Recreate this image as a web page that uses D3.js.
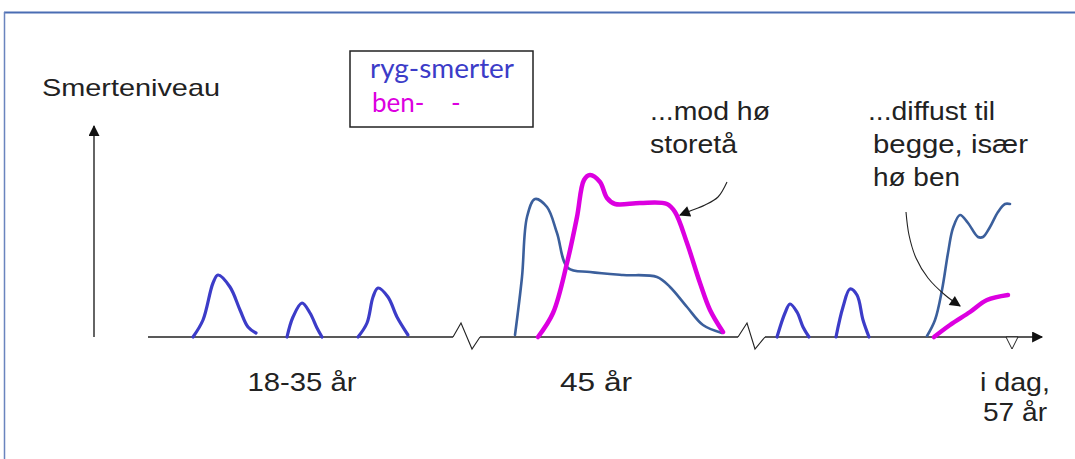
<!DOCTYPE html>
<html>
<head>
<meta charset="utf-8">
<script src="https://cdn.jsdelivr.net/npm/d3@7"></script>
<style>
  body { margin: 0; background: #fff; }
  svg { display: block; }
  text { font-family: "Liberation Sans", Arial, sans-serif; fill: #222; }
</style>
</head>
<body>
<div id="chart"></div>
<script>
// x = time (arbitrary units along a broken axis), y = pain level 0..10

// short back-pain episodes, 18-35 years and later
const rygEpisodes = [
  [[14.3, 0], [15.3, 0.85], [16.3, 2.7], [16.8, 3.1], [18.0, 2.5], [19.0, 1.35], [19.8, 0.5], [20.6, 0.2]],
  [[23.7, 0], [24.3, 1.0], [25.2, 1.7], [26.0, 1.2], [26.7, 0.45], [27.2, 0]],
  [[30.8, 0], [31.7, 0.7], [32.3, 2.0], [32.8, 2.45], [33.8, 2.0], [34.7, 1.0], [35.8, 0.1]],
  [[72.7, 0], [73.5, 1.2], [74.0, 1.65], [74.7, 1.25], [75.3, 0.5], [75.9, 0]],
  [[78.6, 0], [79.3, 1.5], [80.0, 2.4], [80.7, 2.1], [81.3, 0.85], [81.9, 0]]
];

// back pain at 45 and today
const ryg45 = [[46.5, 0.1], [47.2, 3.0], [47.7, 6.0], [48.5, 6.9], [49.7, 6.5], [50.7, 5.2], [51.8, 3.45],
  [54.0, 3.25], [57.3, 3.1], [60.7, 3.0], [62.0, 2.5], [63.7, 1.5], [65.3, 0.6], [67.2, 0.2]];
const rygToday = [[87.7, 0.05], [88.5, 0.85], [89.2, 2.35], [89.8, 4.2], [90.3, 5.45], [91.0, 6.1], [91.8, 5.7],
  [92.8, 5.0], [93.3, 5.0], [94.0, 5.5], [94.8, 6.25], [95.5, 6.65], [96.0, 6.65]];

// leg pain at 45 and today
const ben45 = [[48.8, 0], [50.3, 1.2], [51.7, 3.7], [52.7, 6.0], [53.4, 7.85], [54.0, 8.1], [55.0, 7.75],
  [55.7, 6.95], [56.5, 6.65], [59.0, 6.7], [61.7, 6.65], [62.5, 6.25], [63.7, 4.7], [65.0, 2.7],
  [66.0, 1.35], [67.3, 0.25]];
const benToday = [[88.4, 0], [90.0, 0.6], [92.0, 1.25], [93.7, 1.85], [95.8, 2.1]];

// annotation arrows
const arrowMod = [[67.7, 7.75], [66.8, 7.0], [65.5, 6.6], [64.0, 6.3], [63.0, 6.1]];
const arrowDiffust = [[85.6, 6.25], [85.9, 5.1], [86.6, 3.95], [87.8, 2.95], [89.5, 2.1], [91.0, 1.55]];

// axis pieces and breaks
const axisSegments = [[9.8, 40.3], [43.0, 68.8], [71.5, 99.2]];
const axisBreaks = [[40.3, 41.1, 42.2, 43.0], [68.8, 69.7, 70.5, 71.5]];
const breakLevels = [0, 0.7, -0.6, 0];
const todayMark = 96.2;

const periodLabels = ["18-35 år", "45 år"];
const periodPos = [25.2, 54.6];

const W = 1075, H = 459;
const x = d3.scaleLinear().domain([0, 100]).range([50, 1050]);
const y = d3.scaleLinear().domain([0, 10]).range([337, 137]);

const svg = d3.select("#chart").append("svg").attr("width", W).attr("height", H);

const defs = svg.append("defs");
defs.append("marker").attr("id", "head")
  .attr("viewBox", "0 0 10 10").attr("refX", 9).attr("refY", 5)
  .attr("markerWidth", 14).attr("markerHeight", 11)
  .attr("markerUnits", "userSpaceOnUse").attr("orient", "auto")
  .append("path").attr("d", "M0,0L10,5L0,10Z").attr("fill", "#111");

// frame
svg.append("line").attr("x1", 4).attr("x2", W).attr("y1", 12.5).attr("y2", 12.5)
  .attr("stroke", "#4a6db3").attr("stroke-width", 2);
svg.append("line").attr("x1", 4.5).attr("x2", 4.5).attr("y1", 12).attr("y2", H)
  .attr("stroke", "#6a84be").attr("stroke-width", 1.5);

// label helper: stretched text like the original slide
function label(t, x0, y0, len, size) {
  return svg.append("text").attr("x", x0).attr("y", y0).attr("font-size", size || 25)
    .attr("textLength", len).attr("lengthAdjust", "spacingAndGlyphs").text(t);
}

// y axis
svg.append("line").attr("x1", x(4.4)).attr("x2", x(4.4)).attr("y1", y(0)).attr("y2", y(10.55))
  .attr("stroke", "#111").attr("stroke-width", 1.3).attr("marker-end", "url(#head)");
label("Smerteniveau", 42, 96, 178, 24);

// x axis (broken)
const ax = svg.append("g").attr("stroke", "#222").attr("fill", "none");
axisSegments.forEach((s, i) => {
  ax.append("line").attr("x1", x(s[0])).attr("x2", x(s[1])).attr("y1", y(0)).attr("y2", y(0))
    .attr("stroke-width", 1.3)
    .attr("marker-end", i === axisSegments.length - 1 ? "url(#head)" : null);
});
const straight = d3.line().x(d => x(d[0])).y(d => y(d[1]));
axisBreaks.forEach(b => {
  ax.append("path").attr("d", straight(b.map((v, i) => [v, breakLevels[i]])))
    .attr("stroke-width", 1.1);
});
// today marker
ax.append("path")
  .attr("d", `M${x(todayMark) - 6},${y(0)}L${x(todayMark) + 6},${y(0)}L${x(todayMark)},${y(0) + 12}Z`)
  .attr("stroke-width", 1).attr("fill", "#fff");

// curves
const curve = d3.line().x(d => x(d[0])).y(d => y(d[1])).curve(d3.curveCatmullRom.alpha(0.5));
const plot = svg.append("g").attr("fill", "none").attr("stroke-linecap", "round").attr("stroke-linejoin", "round");

plot.selectAll(".ep").data(rygEpisodes).join("path")
  .attr("d", curve).attr("stroke", "#3c3cc8").attr("stroke-width", 3.2);

plot.selectAll(".ryg").data([ryg45, rygToday]).join("path")
  .attr("d", curve).attr("stroke", "#3b5f9c").attr("stroke-width", 2.6);

plot.selectAll(".ben").data([ben45, benToday]).join("path")
  .attr("d", curve).attr("stroke", "#dc00e0").attr("stroke-width", 4.5);

// annotation arrows
svg.append("g").attr("fill", "none").attr("stroke", "#222").attr("stroke-width", 1.1)
  .selectAll("path").data([arrowMod, arrowDiffust]).join("path")
  .attr("d", curve).attr("marker-end", "url(#head)");

// annotations
label("...mod hø", 650, 120, 120);
label("storetå", 650, 153, 87);
label("...diffust til", 868, 120, 127);
label("begge, især", 873, 153, 155);
label("hø ben", 873, 186, 87);

// period labels
periodLabels.forEach((t, i) => {
  const len = i === 0 ? 109 : 72;
  label(t, x(periodPos[i]) - len / 2, 391, len);
});
label("i dag,", 980, 391, 70);
label("57 år", 983, 421, 64);

// legend
const lg = svg.append("g");
lg.append("rect").attr("x", 350).attr("y", 51).attr("width", 183).attr("height", 76)
  .attr("fill", "#fff").attr("stroke", "#222").attr("stroke-width", 1.5);
lg.append("text").attr("x", 370).attr("y", 78).attr("font-size", 26)
  .style("font-family", "Lato, 'Open Sans', sans-serif").style("fill", "#3c3cc8")
  .attr("textLength", 144).attr("lengthAdjust", "spacingAndGlyphs").text("ryg-smerter");
lg.append("text").attr("x", 372).attr("y", 112).attr("font-size", 26)
  .style("font-family", "Lato, 'Open Sans', sans-serif").style("fill", "#dc00e0")
  .attr("xml:space", "preserve").text("ben-    -");
</script>
</body>
</html>
